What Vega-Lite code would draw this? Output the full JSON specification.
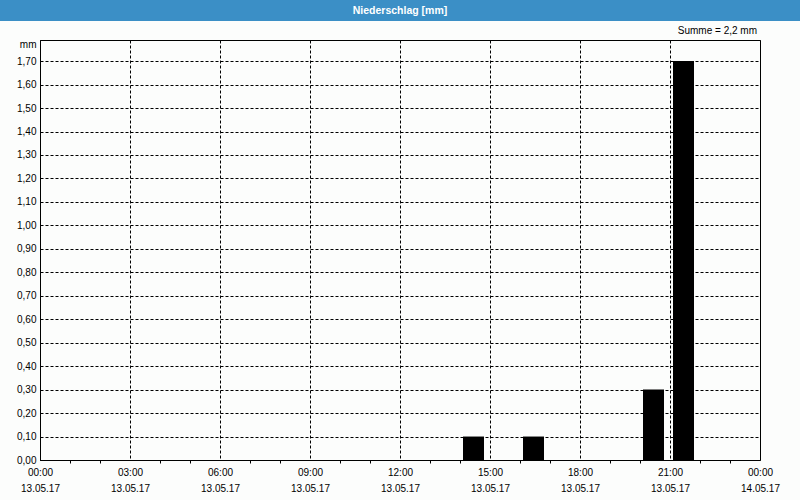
{
  "$schema": "https://vega.github.io/schema/vega-lite/v6.json",
  "background": "#fcfdfc",
  "autosize": {"type": "none"},
  "padding": {"left": 40, "top": 40, "right": 40, "bottom": 40},
  "width": 720,
  "height": 420,
  "config": {
    "font": "Liberation Sans",
    "view": {"stroke": "black", "strokeWidth": 1}
  },
  "datasets": {
    "rain": [
      {"start": 14, "end": 15, "mm": 0.1},
      {"start": 16, "end": 17, "mm": 0.1},
      {"start": 20, "end": 21, "mm": 0.3},
      {"start": 21, "end": 22, "mm": 1.7}
    ],
    "labels": [
      {"t": "Niederschlag [mm]"}
    ],
    "summe": [
      {"t": "Summe = 2,2 mm"}
    ]
  },
  "layer": [
    {
      "data": {"name": "rain"},
      "mark": {"type": "bar", "color": "black", "xOffset": 3, "x2Offset": -6},
      "encoding": {
        "x": {
          "field": "start", "type": "quantitative",
          "scale": {"domain": [0, 24], "nice": false, "zero": false},
          "axis": {
            "title": null,
            "tickCount": 24,
            "labelExpr": "datum.value % 3 == 0 ? [(datum.value == 24 ? '00' : (datum.value < 10 ? '0' : '') + datum.value) + ':00', datum.value == 24 ? '14.05.17' : '13.05.17'] : ''",
            "labelOverlap": false,
            "labelFlush": false,
            "labelBound": false,
            "labelFontSize": 10,
            "labelColor": "black",
            "labelLineHeight": 16,
            "labelPadding": 4,
            "domainColor": "black",
            "tickColor": "black",
            "tickSize": 3,
            "tickOpacity": {"condition": {"test": "datum.value % 3 == 0", "value": 0}, "value": 1},
            "grid": true,
            "gridColor": "black",
            "gridDash": [3, 2],
            "gridOpacity": {"condition": {"test": "datum.value % 3 == 0", "value": 1}, "value": 0}
          }
        },
        "x2": {"field": "end"},
        "y": {
          "field": "mm", "type": "quantitative",
          "scale": {"domain": [0, 1.79], "nice": false},
          "axis": {
            "title": "mm",
            "titleAngle": 0,
            "titleAlign": "right",
            "titleBaseline": "middle",
            "titleX": -4,
            "titleY": 4,
            "titleFontWeight": "normal",
            "titleFontSize": 10,
            "titleColor": "black",
            "tickCount": 18,
            "labelExpr": "replace(format(datum.value, '.2f'), '.', ',')",
            "labelOverlap": false,
            "labelFontSize": 10,
            "labelColor": "black",
            "labelPadding": 4,
            "ticks": false,
            "domainColor": "black",
            "grid": true,
            "gridColor": "black",
            "gridDash": [3, 2]
          }
        },
        "y2": {"datum": 0}
      }
    },
    {
      "data": {"name": "labels"},
      "mark": {"type": "rect", "color": "#3b8fc6", "clip": false},
      "encoding": {
        "x": {"datum": -1.3333, "type": "quantitative"},
        "x2": {"datum": 25.3333},
        "y": {"datum": 1.9605, "type": "quantitative"},
        "y2": {"datum": 1.871}
      }
    },
    {
      "data": {"name": "labels"},
      "mark": {"type": "text", "color": "white", "fontWeight": "bold", "fontSize": 10.5, "baseline": "middle", "align": "center", "clip": false},
      "encoding": {
        "x": {"datum": 12, "type": "quantitative"},
        "y": {"datum": 1.9157, "type": "quantitative"},
        "text": {"field": "t"}
      }
    },
    {
      "data": {"name": "summe"},
      "mark": {"type": "text", "color": "black", "fontSize": 10, "baseline": "middle", "align": "right", "dx": -3, "clip": false},
      "encoding": {
        "x": {"datum": 24, "type": "quantitative"},
        "y": {"datum": 1.828, "type": "quantitative"},
        "text": {"field": "t"}
      }
    }
  ]
}
